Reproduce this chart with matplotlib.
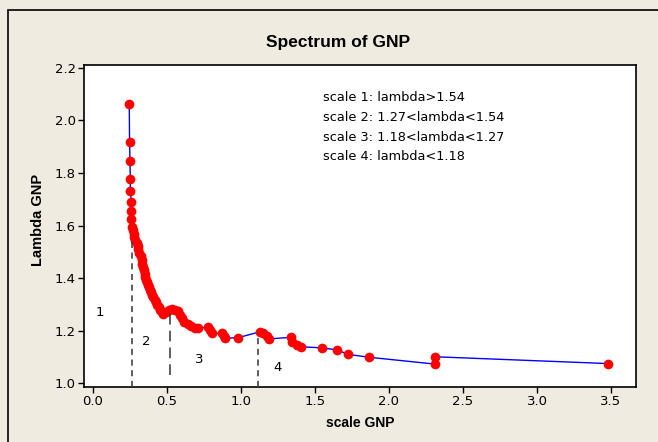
import matplotlib
matplotlib.use("Agg")
import matplotlib.pyplot as plt
from matplotlib.patches import Rectangle

plt.rcParams['font.family'] = ['DejaVu Sans']

# scale vs lambda (in plotting order)
scale = [0.245, 0.247, 0.250, 0.252, 0.252, 0.259, 0.259, 0.260,
         0.261, 0.267, 0.274, 0.280, 0.287, 0.294, 0.301, 0.307,
         0.314, 0.321, 0.328, 0.333, 0.338, 0.343, 0.348, 0.353,
         0.358, 0.365, 0.372, 0.378, 0.385, 0.392, 0.399, 0.407,
         0.416, 0.424, 0.432, 0.443, 0.453, 0.465, 0.476,
         0.493, 0.514, 0.534, 0.554, 0.571, 0.588, 0.601, 0.618,
         0.639, 0.662, 0.686, 0.711, 0.779, 0.791, 0.802, 0.872,
         0.885, 0.892, 0.982, 1.128, 1.149, 1.174, 1.191, 1.336,
         1.343, 1.376, 1.405, 1.545, 1.652, 1.723, 1.868, 2.311,
         2.311, 3.482]
lam = [2.064, 1.919, 1.846, 1.776, 1.733, 1.688, 1.656, 1.625,
       1.595, 1.583, 1.568, 1.556, 1.545, 1.533, 1.522, 1.509,
       1.495, 1.482, 1.469, 1.455, 1.442, 1.429, 1.415, 1.404,
       1.392, 1.383, 1.373, 1.364, 1.354, 1.345, 1.335, 1.326,
       1.316, 1.307, 1.297, 1.288, 1.278, 1.270, 1.263,
       1.270, 1.278, 1.282, 1.280, 1.274, 1.259, 1.246, 1.232,
       1.223, 1.217, 1.211, 1.208, 1.214, 1.202, 1.189, 1.189,
       1.179, 1.170, 1.173, 1.195, 1.190, 1.180, 1.168, 1.174,
       1.157, 1.145, 1.138, 1.134, 1.126, 1.109, 1.098, 1.072,
       1.100, 1.074]

# scale boundaries (x, top of dashed line, bottom of dashed line)
cut_x = [0.264, 0.52, 1.115]
cut_top = [1.537, 1.286, 1.19]
cut_bot = [0.985, 1.03, 0.985]

region_labels = ['1', '2', '3', '4']
region_x = [0.047, 0.358, 0.716, 1.248]
region_y = [1.269, 1.157, 1.091, 1.058]

legend_lines = ['scale 1: lambda>1.54',
                'scale 2: 1.27<lambda<1.54',
                'scale 3: 1.18<lambda<1.27',
                'scale 4: lambda<1.18']

bg = '#EFEBE1'
fig = plt.figure(figsize=(6.58, 4.42), dpi=100, facecolor=bg)
fig.patches.append(Rectangle((8/658, -0.1), 1.2, 1 - 10/442 + 0.1,
                             transform=fig.transFigure, fill=False,
                             edgecolor='black', linewidth=1.2))
ax = fig.add_axes([84/658, 1 - 387/442, (636 - 84)/658, (387 - 65)/442])

ax.plot(scale, lam, color='blue', linewidth=1, zorder=2)
ax.plot(scale, lam, 'o', color='red', markersize=7,
        markeredgewidth=0, zorder=3)

dash_styles = [(4, 3), (7, 4), (4, 3)]
for x_i, t, b, d in zip(cut_x, cut_top, cut_bot, dash_styles):
    ax.plot([x_i, x_i], [b, t], color='#333333', linewidth=1.1,
            dashes=d, zorder=4)

for s, x_i, y_i in zip(region_labels, region_x, region_y):
    ax.text(x_i, y_i, s, fontsize=9.5, ha='center', va='center')

for i, s in enumerate(legend_lines):
    ax.text(1.555, 2.088 - i * 0.0755, s, fontsize=9.3, ha='left', va='center')

ax.set_xlim(-0.0608, 3.669)
ax.set_ylim(0.9848, 2.2114)
ax.set_xticks([0.0, 0.5, 1.0, 1.5, 2.0, 2.5, 3.0, 3.5])
ax.set_xticklabels(['0.0', '0.5', '1.0', '1.5', '2.0', '2.5', '3.0', '3.5'])
ax.set_yticks([1.0, 1.2, 1.4, 1.6, 1.8, 2.0, 2.2])
ax.set_yticklabels(['1.0', '1.2', '1.4', '1.6', '1.8', '2.0', '2.2'])
ax.tick_params(direction='out', length=4, width=1, labelsize=9.5, pad=2)
for sp in ax.spines.values():
    sp.set_linewidth(1.2)

bold = ['Liberation Sans', 'DejaVu Sans']
fig.text(338/658, 1 - 42/442, 'Spectrum of GNP', fontsize=12.5, family=bold,
         fontweight='bold', ha='center', va='center')
fig.text(360/658, 1 - 423/442, 'scale GNP', fontsize=10, family=bold,
         fontweight='bold', ha='center', va='center')
fig.text(38/658, 1 - 220/442, 'Lambda GNP', fontsize=10.5, family=bold,
         fontweight='bold', ha='center', va='center', rotation=90)

fig.savefig('out.png', dpi=100, facecolor=bg)
